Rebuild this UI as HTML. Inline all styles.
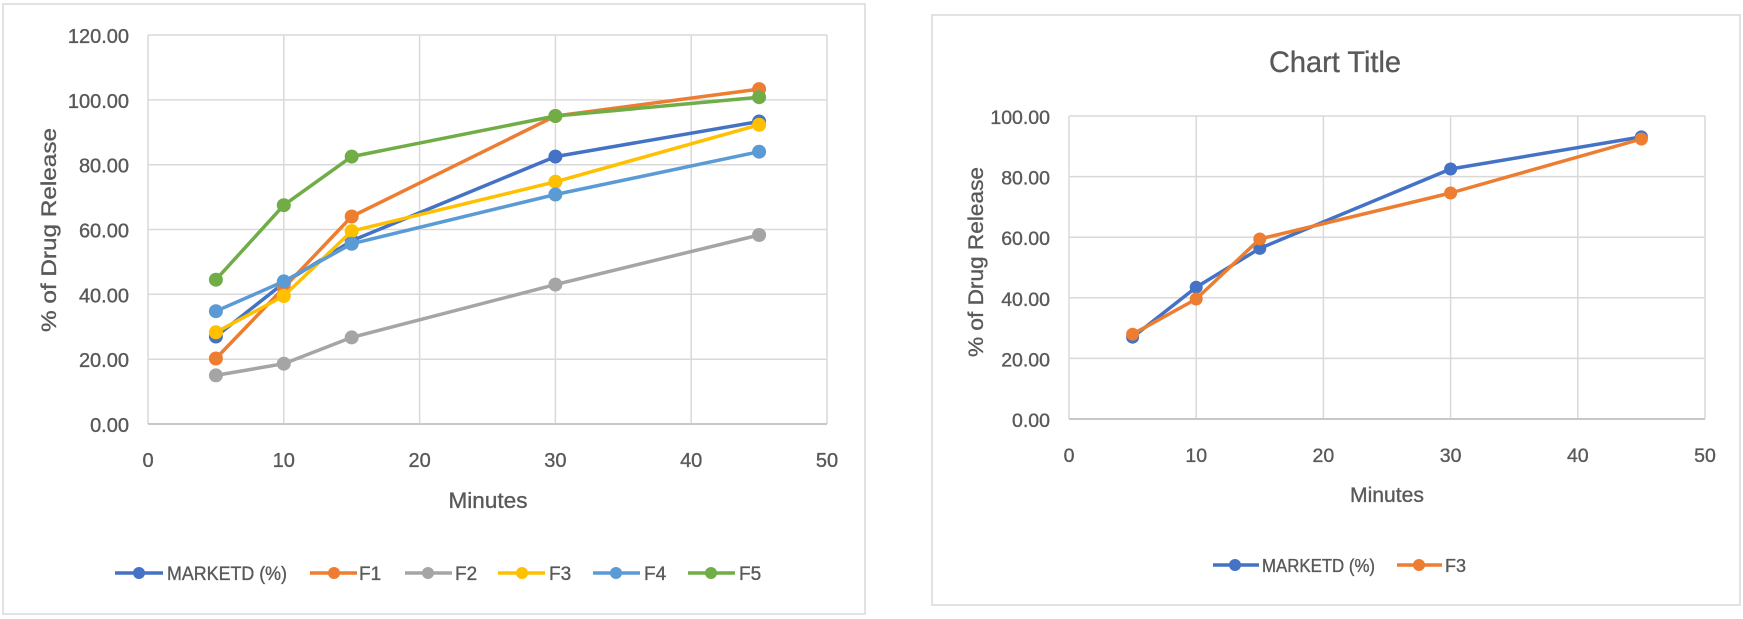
<!DOCTYPE html>
<html><head><meta charset="utf-8"><style>
html,body{margin:0;padding:0;background:#fff;}
svg{display:block;}
text{font-family:"Liberation Sans",Arial,sans-serif;fill:#595959;stroke:#595959;stroke-width:0.35;}
</style></head><body>
<svg width="1743" height="619" viewBox="0 0 1743 619" xmlns="http://www.w3.org/2000/svg">
<rect x="0" y="0" width="1743" height="619" fill="#fff"/>
<!-- LEFT CHART -->
<rect x="3" y="4" width="862" height="610" fill="#fff" stroke="#d9d9d9" stroke-width="1.5"/>
<g stroke="#d9d9d9" stroke-width="1.5" fill="none">
<line x1="148" y1="35" x2="827" y2="35"/>
<line x1="148" y1="99.9" x2="827" y2="99.9"/>
<line x1="148" y1="164.7" x2="827" y2="164.7"/>
<line x1="148" y1="229.5" x2="827" y2="229.5"/>
<line x1="148" y1="294.3" x2="827" y2="294.3"/>
<line x1="148" y1="359.2" x2="827" y2="359.2"/>
<line x1="148" y1="35" x2="148" y2="424"/>
<line x1="283.8" y1="35" x2="283.8" y2="424"/>
<line x1="419.6" y1="35" x2="419.6" y2="424"/>
<line x1="555.4" y1="35" x2="555.4" y2="424"/>
<line x1="691.2" y1="35" x2="691.2" y2="424"/>
<line x1="827" y1="35" x2="827" y2="424"/>
</g>
<line x1="148" y1="424" x2="827" y2="424" stroke="#c8c8c8" stroke-width="2"/>
<g font-size="20" text-anchor="end">
<text x="129" y="43">120.00</text>
<text x="129" y="107.9">100.00</text>
<text x="129" y="172.7">80.00</text>
<text x="129" y="237.5">60.00</text>
<text x="129" y="302.3">40.00</text>
<text x="129" y="367.2">20.00</text>
<text x="129" y="432">0.00</text>
</g>
<g font-size="20" text-anchor="middle">
<text x="148" y="467">0</text>
<text x="283.8" y="467">10</text>
<text x="419.6" y="467">20</text>
<text x="555.4" y="467">30</text>
<text x="691.2" y="467">40</text>
<text x="827" y="467">50</text>
</g>
<text x="488" y="508" font-size="22" text-anchor="middle" textLength="79" lengthAdjust="spacingAndGlyphs">Minutes</text>
<text transform="translate(56,230) rotate(-90)" font-size="21" text-anchor="middle" textLength="204" lengthAdjust="spacingAndGlyphs">% of Drug Release</text>
<!-- series -->
<polyline fill="none" stroke="#4472C4" stroke-width="3.5" stroke-linejoin="round" points="215.9,336.5 283.8,283.0 351.7,240.8 555.4,156.6 759.1,121.5"/>
<g fill="#4472C4"><circle cx="215.9" cy="336.5" r="7"/><circle cx="283.8" cy="283.0" r="7"/><circle cx="351.7" cy="240.8" r="7"/><circle cx="555.4" cy="156.6" r="7"/><circle cx="759.1" cy="121.5" r="7"/></g>
<polyline fill="none" stroke="#ED7D31" stroke-width="3.5" stroke-linejoin="round" points="215.9,358.5 283.8,287.8 351.7,216.5 555.4,116.0 759.1,89.1"/>
<g fill="#ED7D31"><circle cx="215.9" cy="358.5" r="7"/><circle cx="283.8" cy="287.8" r="7"/><circle cx="351.7" cy="216.5" r="7"/><circle cx="555.4" cy="116.0" r="7"/><circle cx="759.1" cy="89.1" r="7"/></g>
<polyline fill="none" stroke="#A5A5A5" stroke-width="3.5" stroke-linejoin="round" points="215.9,375.4 283.8,363.7 351.7,337.4 555.4,284.6 759.1,235.0"/>
<g fill="#A5A5A5"><circle cx="215.9" cy="375.4" r="7"/><circle cx="283.8" cy="363.7" r="7"/><circle cx="351.7" cy="337.4" r="7"/><circle cx="555.4" cy="284.6" r="7"/><circle cx="759.1" cy="235.0" r="7"/></g>
<polyline fill="none" stroke="#FFC000" stroke-width="3.5" stroke-linejoin="round" points="215.9,332.3 283.8,296.0 351.7,231.1 555.4,181.8 759.1,124.8"/>
<g fill="#FFC000"><circle cx="215.9" cy="332.3" r="7"/><circle cx="283.8" cy="296.0" r="7"/><circle cx="351.7" cy="231.1" r="7"/><circle cx="555.4" cy="181.8" r="7"/><circle cx="759.1" cy="124.8" r="7"/></g>
<polyline fill="none" stroke="#5B9BD5" stroke-width="3.5" stroke-linejoin="round" points="215.9,311.2 283.8,281.4 351.7,243.8 555.4,194.5 759.1,151.7"/>
<g fill="#5B9BD5"><circle cx="215.9" cy="311.2" r="7"/><circle cx="283.8" cy="281.4" r="7"/><circle cx="351.7" cy="243.8" r="7"/><circle cx="555.4" cy="194.5" r="7"/><circle cx="759.1" cy="151.7" r="7"/></g>
<polyline fill="none" stroke="#70AD47" stroke-width="3.5" stroke-linejoin="round" points="215.9,279.7 283.8,205.2 351.7,156.6 555.4,116.0 759.1,97.2"/>
<g fill="#70AD47"><circle cx="215.9" cy="279.7" r="7"/><circle cx="283.8" cy="205.2" r="7"/><circle cx="351.7" cy="156.6" r="7"/><circle cx="555.4" cy="116.0" r="7"/><circle cx="759.1" cy="97.2" r="7"/></g>
<!-- legend left -->
<g stroke-width="3.5">
<line x1="115" y1="573" x2="163" y2="573" stroke="#4472C4"/><circle cx="139" cy="573" r="6" fill="#4472C4" stroke="none"/>
<line x1="310" y1="573" x2="357" y2="573" stroke="#ED7D31"/><circle cx="334" cy="573" r="6" fill="#ED7D31" stroke="none"/>
<line x1="405" y1="573" x2="452" y2="573" stroke="#A5A5A5"/><circle cx="428" cy="573" r="6" fill="#A5A5A5" stroke="none"/>
<line x1="498" y1="573" x2="545" y2="573" stroke="#FFC000"/><circle cx="522" cy="573" r="6" fill="#FFC000" stroke="none"/>
<line x1="593" y1="573" x2="640" y2="573" stroke="#5B9BD5"/><circle cx="616" cy="573" r="6" fill="#5B9BD5" stroke="none"/>
<line x1="688" y1="573" x2="735" y2="573" stroke="#70AD47"/><circle cx="711" cy="573" r="6" fill="#70AD47" stroke="none"/>
</g>
<g font-size="19">
<text x="167" y="580" textLength="120" lengthAdjust="spacingAndGlyphs">MARKETD (%)</text>
<text x="359" y="580">F1</text>
<text x="455" y="580">F2</text>
<text x="549" y="580">F3</text>
<text x="644" y="580">F4</text>
<text x="739" y="580">F5</text>
</g>

<!-- RIGHT CHART -->
<rect x="932" y="15" width="808" height="590" fill="#fff" stroke="#d9d9d9" stroke-width="1.5"/>
<text x="1335" y="72" font-size="30" text-anchor="middle" textLength="132" lengthAdjust="spacingAndGlyphs">Chart Title</text>
<g stroke="#d9d9d9" stroke-width="1.5" fill="none">
<line x1="1069" y1="116" x2="1705" y2="116"/>
<line x1="1069" y1="176.6" x2="1705" y2="176.6"/>
<line x1="1069" y1="237.2" x2="1705" y2="237.2"/>
<line x1="1069" y1="297.8" x2="1705" y2="297.8"/>
<line x1="1069" y1="358.4" x2="1705" y2="358.4"/>
<line x1="1069" y1="116" x2="1069" y2="419"/>
<line x1="1196.2" y1="116" x2="1196.2" y2="419"/>
<line x1="1323.4" y1="116" x2="1323.4" y2="419"/>
<line x1="1450.6" y1="116" x2="1450.6" y2="419"/>
<line x1="1577.8" y1="116" x2="1577.8" y2="419"/>
<line x1="1705" y1="116" x2="1705" y2="419"/>
</g>
<line x1="1069" y1="419" x2="1705" y2="419" stroke="#c8c8c8" stroke-width="2"/>
<g font-size="19.5" text-anchor="end">
<text x="1050" y="124">100.00</text>
<text x="1050" y="184.6">80.00</text>
<text x="1050" y="245.2">60.00</text>
<text x="1050" y="305.8">40.00</text>
<text x="1050" y="366.4">20.00</text>
<text x="1050" y="427">0.00</text>
</g>
<g font-size="19.5" text-anchor="middle">
<text x="1069" y="462">0</text>
<text x="1196.2" y="462">10</text>
<text x="1323.4" y="462">20</text>
<text x="1450.6" y="462">30</text>
<text x="1577.8" y="462">40</text>
<text x="1705" y="462">50</text>
</g>
<text x="1387" y="502" font-size="21" text-anchor="middle" textLength="74" lengthAdjust="spacingAndGlyphs">Minutes</text>
<text transform="translate(983,262) rotate(-90)" font-size="21" text-anchor="middle" textLength="190" lengthAdjust="spacingAndGlyphs">% of Drug Release</text>
<polyline fill="none" stroke="#4472C4" stroke-width="3.5" stroke-linejoin="round" points="1132.6,337.2 1196.2,287.2 1259.8,248.4 1450.6,169.0 1641.4,136.9"/>
<g fill="#4472C4"><circle cx="1132.6" cy="337.2" r="6.5"/><circle cx="1196.2" cy="287.2" r="6.5"/><circle cx="1259.8" cy="248.4" r="6.5"/><circle cx="1450.6" cy="169.0" r="6.5"/><circle cx="1641.4" cy="136.9" r="6.5"/></g>
<polyline fill="none" stroke="#ED7D31" stroke-width="3.5" stroke-linejoin="round" points="1132.6,334.2 1196.2,299.0 1259.8,239.0 1450.6,193.0 1641.4,139.0"/>
<g fill="#ED7D31"><circle cx="1132.6" cy="334.2" r="6.5"/><circle cx="1196.2" cy="299.0" r="6.5"/><circle cx="1259.8" cy="239.0" r="6.5"/><circle cx="1450.6" cy="193.0" r="6.5"/><circle cx="1641.4" cy="139.0" r="6.5"/></g>
<g stroke-width="3.5">
<line x1="1213" y1="565" x2="1259" y2="565" stroke="#4472C4"/><circle cx="1235" cy="565" r="6" fill="#4472C4" stroke="none"/>
<line x1="1397" y1="565" x2="1442" y2="565" stroke="#ED7D31"/><circle cx="1419" cy="565" r="6" fill="#ED7D31" stroke="none"/>
</g>
<g font-size="18">
<text x="1262" y="572" textLength="113" lengthAdjust="spacingAndGlyphs">MARKETD (%)</text>
<text x="1445" y="572">F3</text>
</g>
</svg>
</body></html>
